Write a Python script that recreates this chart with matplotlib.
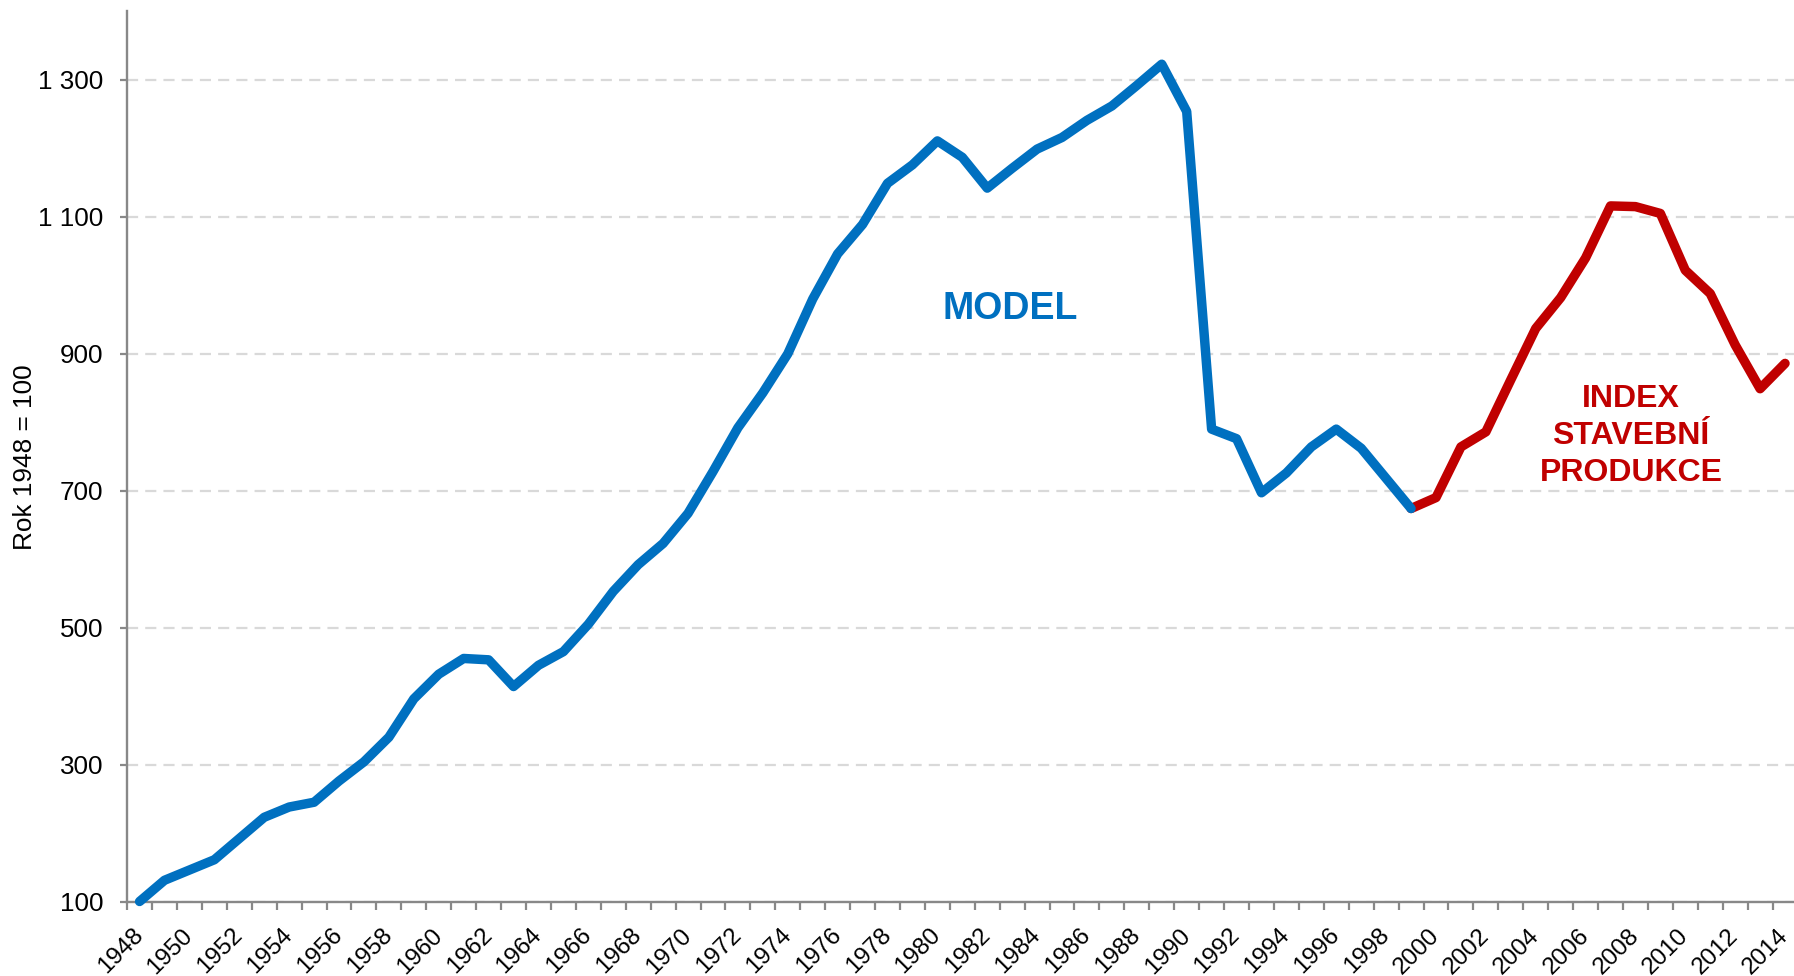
import matplotlib

matplotlib.use("Agg")
import matplotlib.pyplot as plt
from matplotlib.ticker import FixedLocator, FuncFormatter

plt.rcParams["font.family"] = ["Liberation Sans", "DejaVu Sans"]

model_years = list(range(1948, 2000))
model_values = [
    100, 131, 146, 161, 192, 223, 238, 245, 276, 304,
    340, 396, 432, 455, 453, 414, 445, 465, 505, 553,
    592, 623, 667, 728, 792, 843, 900, 980, 1046, 1089,
    1149, 1176, 1211, 1187, 1142, 1171, 1199, 1216, 1241, 1262,
    1292, 1323, 1254, 790, 776, 697, 726, 764, 790, 762,
    718, 674,
]
index_years = list(range(1999, 2015))
index_values = [
    674, 690, 764, 786, 862, 937, 982, 1040, 1116, 1115,
    1105, 1022, 988, 913, 849, 886,
]
y_ticks = [100, 300, 500, 700, 900, 1100, 1300]
x_label_years = list(range(1948, 2015, 2))

BLUE = "#0070C0"
RED = "#C00000"
AXIS = "#888888"

fig = plt.figure(figsize=(17.94, 9.76), dpi=100)
ax = fig.add_axes([0.07085, 0.07633, 0.9311, 0.9119])

ax.plot(index_years, index_values, color=RED, lw=6.8, solid_capstyle="round",
        solid_joinstyle="round", clip_on=False, zorder=4)
ax.plot(model_years, model_values, color=BLUE, lw=6.8, solid_capstyle="round",
        solid_joinstyle="round", clip_on=False, zorder=5)

ax.set_xlim(1947.5, 2014.5)
ax.set_ylim(100, 1400)

ax.yaxis.set_major_locator(FixedLocator(y_ticks))
ax.yaxis.set_major_formatter(FuncFormatter(lambda v, p: f"{int(v):,}".replace(",", " ")))
ax.grid(axis="y", color="#D9D9D9", lw=1.6, linestyle=(0, (5, 3.2)))
ax.set_axisbelow(True)

ax.xaxis.set_major_locator(FixedLocator(x_label_years))
ax.xaxis.set_minor_locator(FixedLocator([y - 0.5 for y in range(1948, 2016)]))
ax.tick_params(axis="x", which="major", length=0, pad=22, labelsize=17.5)
ax.tick_params(axis="x", which="minor", length=5.5, width=1.6, color=AXIS, direction="out")
ax.tick_params(axis="y", which="major", length=5, width=1.6, color=AXIS, pad=12, labelsize=18.7)
for lab in ax.get_xticklabels():
    lab.set_rotation(45)
    lab.set_ha("right")
    lab.set_va("center")
    lab.set_rotation_mode("anchor")

for side in ("top", "right"):
    ax.spines[side].set_visible(False)
for side in ("left", "bottom"):
    ax.spines[side].set_color(AXIS)
    ax.spines[side].set_linewidth(1.7)

fig.text(25 / 1794, 1 - 457 / 976, "Rok 1948 = 100", rotation=90, ha="center",
         va="center", fontsize=18.9)

ax.annotate("MODEL", xy=(1010 / 1794, 1 - 309 / 976), xycoords="figure fraction",
            ha="center", va="center", fontsize=27, fontweight="bold", color=BLUE)
ax.annotate("INDEX\nSTAVEBNÍ\nPRODUKCE", xy=(1631 / 1794, 1 - 436 / 976),
            xycoords="figure fraction", ha="center", va="center", fontsize=23,
            fontweight="bold", color=RED, linespacing=1.32)

fig.savefig("out.png", dpi=100)
plt.close(fig)
